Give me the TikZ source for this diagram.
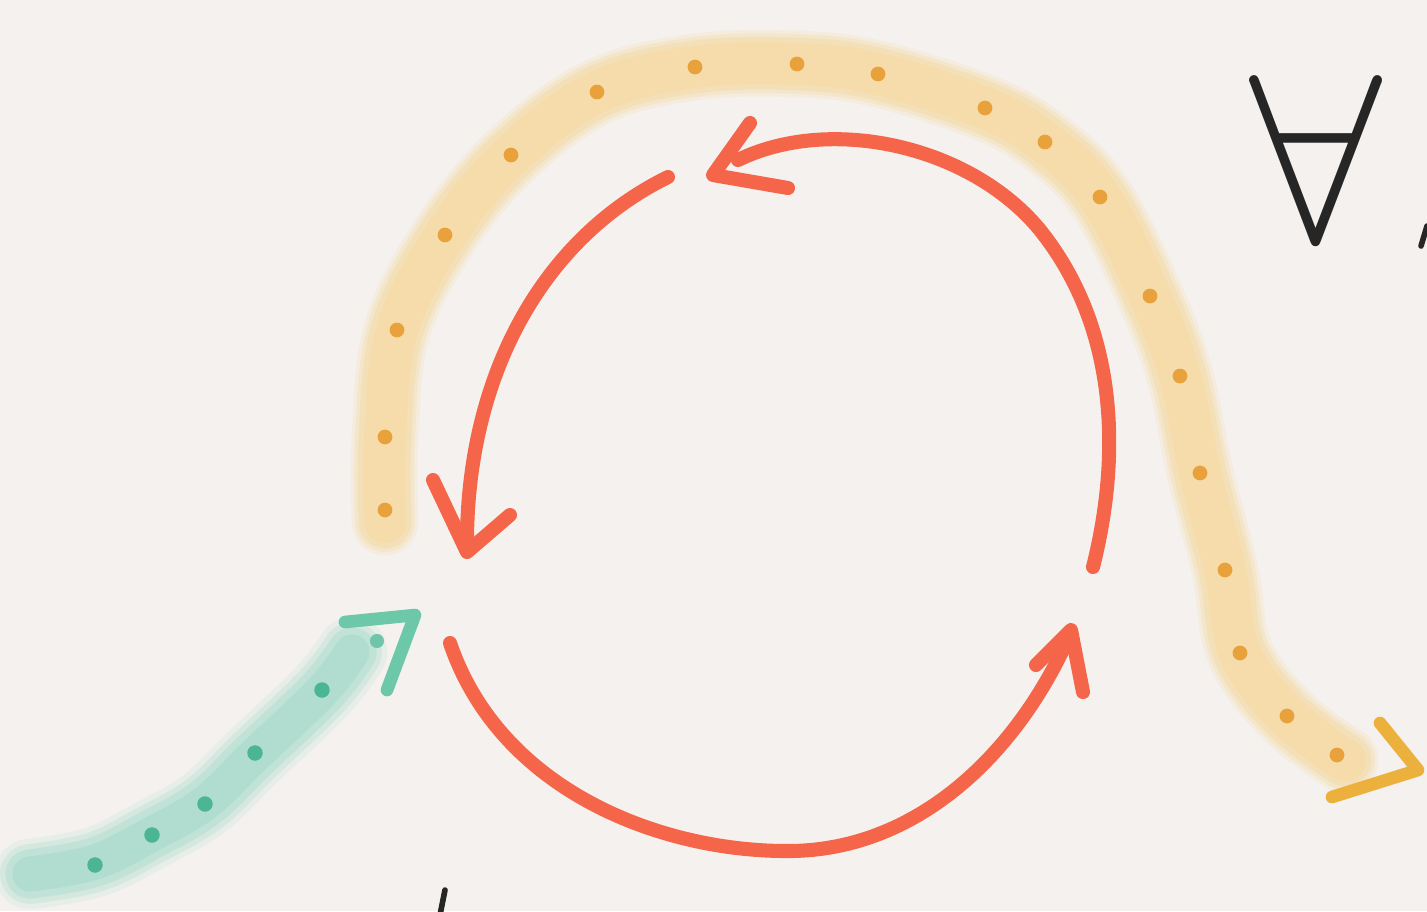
\documentclass[tikz,border=0pt]{standalone}
\usetikzlibrary{arrows.meta}
\definecolor{paper}{HTML}{F4F1EE}
\definecolor{cyclered}{HTML}{F4654A}
\definecolor{bandyellow}{HTML}{F6DAA2}
\definecolor{dotorange}{HTML}{E9A23B}
\definecolor{tipyellow}{HTML}{EBB13C}
\definecolor{bandgreen}{HTML}{A3DACB}
\definecolor{dotgreen}{HTML}{4BB594}
\definecolor{tipgreen}{HTML}{6DC8AA}
\definecolor{inkdark}{HTML}{262626}

\begin{document}
\begin{tikzpicture}[x=0.01cm, y=-0.01cm,
    pen/.style={draw=cyclered, line width=4pt, line cap=round, line join=round},
    tippen/.style={line width=3.6pt, line cap=round, line join=round},
    dot/.style={fill=#1, draw=none},
    ink/.style={draw=inkdark, line width=1.6pt, line cap=round}
  ]
  \fill[paper] (0,0) rectangle (1427,911);
  \useasboundingbox (0,0) rectangle (1427,911);

  % soft yellow band over the cycle
  \def\yellowline{plot[smooth, tension=0.6] coordinates {(385,522) (385,437) (397,330) (445,235) (511,155) (597,92) (695,67) (797,64) (878,74) (985,108) (1045,142) (1100,197) (1150,296) (1180,376) (1200,473) (1225,570) (1240,653) (1287,716) (1345,760)}}
  \foreach \w/\o in {19pt/0.2, 17pt/0.3, 15pt/0.45, 12pt/0.6} {
    \draw[bandyellow, line width=\w, opacity=\o, line cap=round] \yellowline;
  }
  \foreach \p in {(385,510),(385,437),(397,330),(445,235),(511,155),(597,92),(695,67),(797,64),(878,74),(985,108),(1045,142),(1100,197),(1150,296),(1180,376),(1200,473),(1225,570),(1240,653),(1287,716),(1337,755)}
    \fill[dot=dotorange] \p circle[radius=2.1pt];
  \draw[tipyellow, tippen] (1380,723) -- (1418,770) -- (1332,797);

  % soft green band coming in
  \def\greenline{plot[smooth, tension=0.6] coordinates {(30,874) (95,862) (152,834) (205,803) (255,755) (322,691) (352,652)}}
  \foreach \w/\o in {20pt/0.15, 17pt/0.25, 14pt/0.4, 10pt/0.55} {
    \draw[bandgreen, line width=\w, opacity=\o, line cap=round] \greenline;
  }
  \foreach \p in {(95,865),(152,835),(205,804),(255,753),(322,690)}
    \fill[dot=dotgreen] \p circle[radius=2.2pt];
  \fill[dot=dotgreen!80] (377,641) circle[radius=2pt];
  \draw[tipgreen, tippen] (345,622) -- (415,615) -- (387,690);

  % the cycle
  \draw[pen] (668,177) .. controls (540,240) and (465,380) .. (467,550);
  \draw[pen] (433,480) -- (467,552) -- (510,515);

  \draw[pen] (450,643) .. controls (500,790) and (660,852) .. (790,851)
                       .. controls (920,850) and (1020,750) .. (1071,632);
  \draw[pen] (1036,665) -- (1071,630) -- (1083,692);

  \draw[pen] (1093,567) .. controls (1120,460) and (1120,330) .. (1040,230)
                        .. controls (970,145) and (830,115) .. (738,160);
  \draw[pen] (750,123) -- (713,175) -- (788,188);

  % lettering
  \node[text=inkdark, inner sep=0pt] (forall) at (1316,158) {\scalebox{6.8}{$\forall$}};
  \draw[ink] (1427,226) -- (1421,246);
  \draw[ink] (445,890) -- (440,915);
\end{tikzpicture}
\end{document}
